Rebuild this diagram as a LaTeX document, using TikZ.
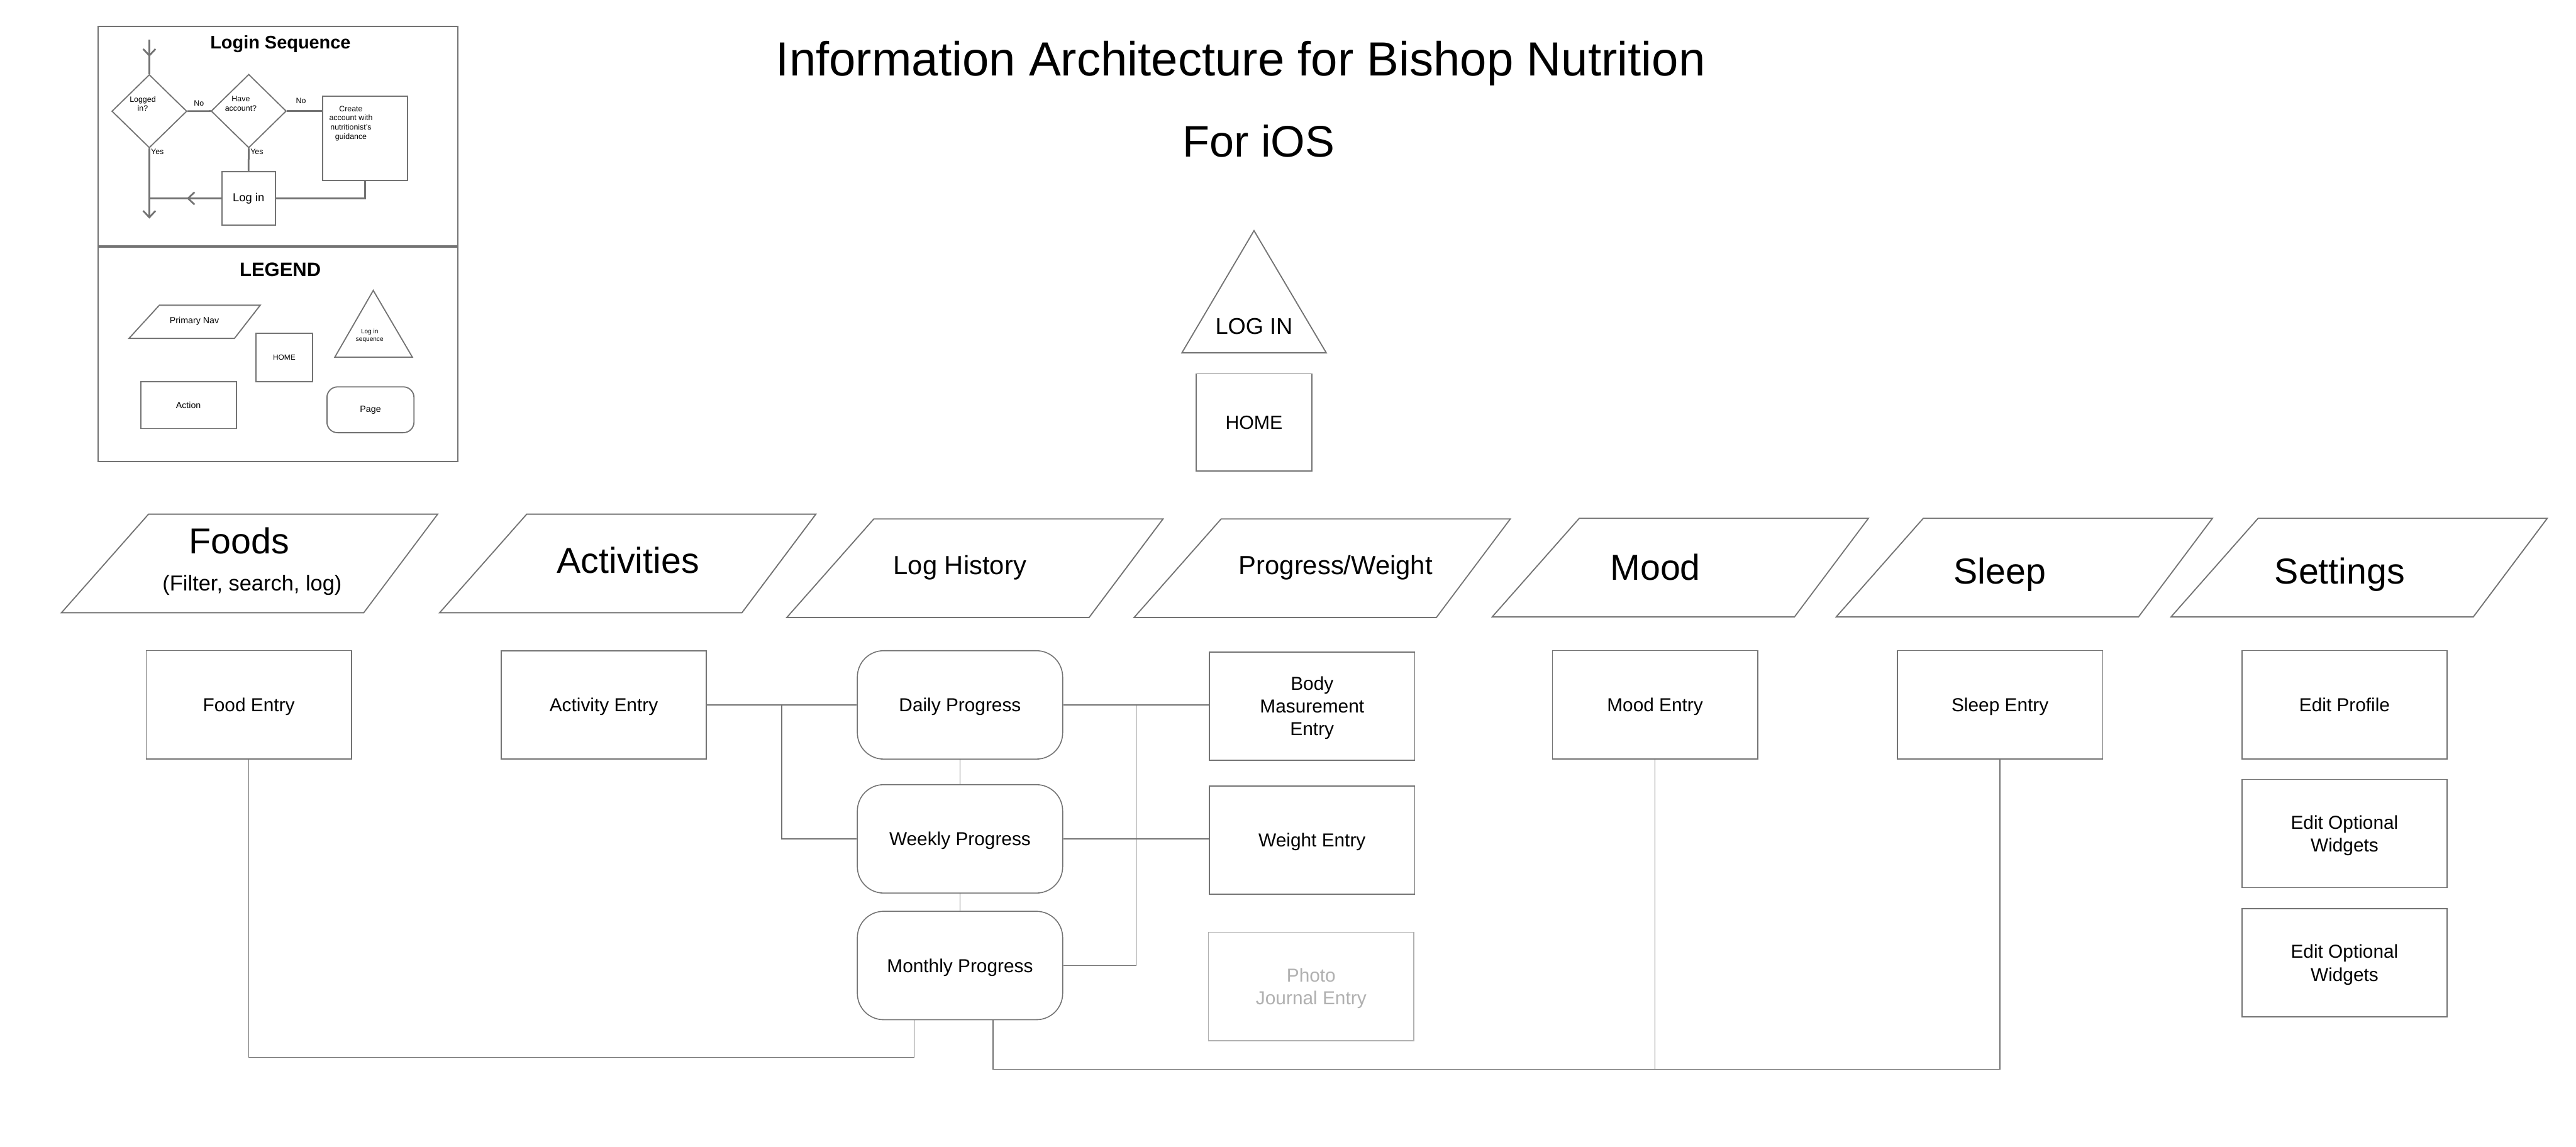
\documentclass[tikz,border=0pt]{standalone}
\usepackage{fontspec}
\setmainfont{Liberation Sans}
\usepackage{xcolor}
\usepackage{tikz}
\usetikzlibrary{arrows.meta,positioning,shapes.geometric,calc}

\definecolor{linegray}{RGB}{115,115,115}
\definecolor{fadegray}{RGB}{176,176,176}
\newcommand{\setfs}[2]{\fontsize{#1pt}{#2pt}\selectfont}

\begin{document}
\begin{tikzpicture}[
    x=0.02cm, y=-0.02cm,
    entry/.style={draw=linegray, line width=0.35pt, minimum width=2.5cm, minimum height=1.32cm, inner sep=1pt, text depth=0pt, align=center, font=\setfs{6.5}{7.9}},
    pagebox/.style={entry, rounded corners=0.32cm},
    conn/.style={linegray, line width=0.35pt},
    navline/.style={linegray, line width=0.4pt},
    navtext/.style={anchor=base, inner sep=0pt, font=\setfs{12.5}{15}},
    seqline/.style={linegray, line width=0.6pt},
    seqarr/.style={seqline, -{Straight Barb[length=0.8mm,width=1.5mm]}},
    seqbox/.style={draw=linegray, line width=0.4pt, inner sep=0pt},
    seqtext/.style={inner sep=0pt, align=center, text=black, font=\setfs{2.7}{3.2}},
    navpara/.pic={\draw[navline] (0,60) -- (53,0) -- (229,0) -- (184,60) -- cycle;}
  ]
    \useasboundingbox (0,0) rectangle (1568,698);

    % login sequence + legend panel
    \draw[linegray, line width=0.45pt] (59.6,16.2) rectangle (278.6,281.1);
    \draw[linegray, line width=0.9pt] (59.6,150.2) -- (278.6,150.2);

    \node[anchor=base, inner sep=0pt, font=\bfseries\setfs{6.3}{7}] (seqtitle) at (170.7,29.5) {Login Sequence};
    \node[seqbox, diamond, minimum width=0.914cm, minimum height=0.892cm] (logged) at (90.9,67.7) {};
    \node[seqtext] (loggedtxt) at (86.9,63.2) {Logged\\in?};
    \node[seqbox, diamond, minimum width=0.916cm, minimum height=0.896cm] (haveacc) at (151.4,67.6) {};
    \node[seqtext] (haveacctxt) at (146.6,63.2) {Have\\account?};
    \node[seqbox, minimum width=1.036cm, minimum height=1.028cm] (create) at (222.2,84.3) {};
    \node[seqtext] (createtxt) at (213.6,75.1) {Create\\account with\\nutritionist's\\guidance};
    \node[seqbox, minimum width=0.652cm, minimum height=0.646cm, font=\setfs{4}{5}] (loginbtn) at (151.3,120.75) {Log in};

    \coordinate (seqin) at (90.9,24.1);
    \coordinate (seqout) at (90.9,133.1);
    \coordinate (seqjoin) at (logged.south |- loginbtn.west);
    \draw[seqline] (seqin) -- (logged.north);
    \draw[seqarr] (seqin) -- ($(seqin)!0.5!(logged.north)$);
    \draw[seqline] (logged.east) -- node[seqtext, above=0.05cm] {No} (haveacc.west);
    \draw[seqline] (haveacc.east) -- node[seqtext, pos=0.4, above=0.08cm] {No} (create.west |- haveacc.east);
    \draw[seqarr] (logged.south) -- node[seqtext, pos=0, anchor=north west, xshift=0.3pt] {Yes} (seqout);
    \draw[seqline] (haveacc.south) -- node[seqtext, pos=0, anchor=north west, xshift=0.3pt] {Yes} (loginbtn.north);
    \draw[seqline] (loginbtn.east) -| (create.south);
    \draw[seqline] (loginbtn.west) -- (seqjoin);
    \draw[seqarr] (loginbtn.west) -- ($(loginbtn.west)!0.48!(seqjoin)$);

    \node[anchor=base, inner sep=0pt, font=\bfseries\setfs{6.75}{8}] (legtitle) at (170.6,168.4) {LEGEND};
    \draw[seqbox] (78.5,206) -- (97,185.8) -- (158.4,185.8) -- (142.7,206) -- cycle;
    \node[inner sep=0pt, font=\setfs{3.1}{3.6}] (legnav) at (118.3,195.6) {Primary Nav};
    \node[seqbox, minimum width=0.688cm, minimum height=0.592cm, font=\setfs{2.6}{3}] (leghome) at (173,217.6) {HOME};
    \draw[seqbox] (227.2,176.8) -- (251,217.4) -- (203.8,217.4) -- cycle;
    \node[seqtext, font=\setfs{2.2}{2.7}] (legseq) at (225,204.4) {Log in\\sequence};
    \node[seqbox, minimum width=1.164cm, minimum height=0.574cm, font=\setfs{3.1}{3.6}] (legaction) at (114.7,246.55) {Action};
    \node[seqbox, rounded corners=0.13cm, minimum width=1.06cm, minimum height=0.558cm, font=\setfs{3.1}{3.6}] (legpage) at (225.5,249.45) {Page};

    % title
    \node[anchor=base, inner sep=0pt, font=\setfs{16.6}{19}] (title) at (755.2,46.1) {Information Architecture for Bishop Nutrition};
    \node[anchor=base, inner sep=0pt, font=\setfs{15.3}{18}] (platform) at (766.2,95.5) {For iOS};

    % log in and home
    \draw[navline] (763.3,140.4) -- (807.3,214.8) -- (719.4,214.8) -- cycle;
    \node[anchor=base, inner sep=0pt, font=\setfs{7.9}{9}] (login) at (763.3,203.5) {LOG IN};
    \node[entry, minimum width=1.412cm, minimum height=1.184cm, font=\setfs{6.6}{8}] (home) at (763.3,257.2) {HOME};

    % primary nav
    \pic at (37.4,313) {navpara};
    \pic at (267.6,313) {navpara};
    \pic at (478.9,315.9) {navpara};
    \pic at (690.3,315.9) {navpara};
    \pic at (908.3,315.5) {navpara};
    \pic at (1117.7,315.5) {navpara};
    \pic at (1321.5,315.5) {navpara};
    \node[navtext] (foods) at (145.7,336.9) {Foods};
    \node[anchor=base, inner sep=0pt, font=\setfs{7.5}{9}] (foodsnote) at (153.5,359.5) {(Filter, search, log)};
    \node[navtext] (activities) at (382.3,349) {Activities};
    \node[navtext, font=\setfs{9.1}{11}] (loghist) at (584.3,349.5) {Log History};
    \node[navtext, font=\setfs{9.1}{11}] (progress) at (813,349.5) {Progress/Weight};
    \node[navtext] (mood) at (1007.6,353.1) {Mood};
    \node[navtext] (sleep) at (1217.2,355.3) {Sleep};
    \node[navtext] (settings) at (1424.2,355.3) {Settings};

    % pages and actions
    \node[entry] (food) at (151.45,429) {Food Entry};
    \node[entry] (activity) at (367.5,429.1) {Activity Entry};
    \node[pagebox] (daily) at (584.35,429.1) {Daily Progress};
    \node[pagebox] (weekly) at (584.35,510.65) {Weekly Progress};
    \node[pagebox] (monthly) at (584.35,587.75) {Monthly Progress};
    \node[entry] (body) at (798.65,429.85) {Body\\Masurement\\Entry};
    \node[entry] (weight) at (798.65,511.45) {Weight Entry};
    \node[entry, draw=fadegray, text=fadegray] (photo) at (798.1,600.45) {Photo\\Journal Entry};
    \node[entry] (moodentry) at (1007.4,429) {Mood Entry};
    \node[entry] (sleepentry) at (1217.4,429) {Sleep Entry};
    \node[entry] (profile) at (1427.1,429) {Edit Profile};
    \node[entry, below=0.236cm of profile] (widgets) {Edit Optional\\Widgets};
    \node[entry, below=0.242cm of widgets] (widgetsb) {Edit Optional\\Widgets};

    % connectors
    \coordinate (actsplit) at ($(activity.east)!0.5!(daily.west)$);
    \coordinate (progsplit) at ($(daily.east)!0.5!(body.west |- daily.east)$);
    \coordinate (foodjoin) at ([xshift=-0.56cm]monthly.south);
    \coordinate (sleepjoin) at ([xshift=0.4cm]monthly.south);
    \coordinate (foodbus) at (0,643.7);
    \coordinate (sleepbus) at (0,650.9);
    \draw[conn] (activity.east) -- (daily.west);
    \draw[conn] (actsplit) |- (weekly.west);
    \draw[conn] (daily) -- (weekly);
    \draw[conn] (weekly) -- (monthly);
    \draw[conn] (daily.east) -- (body.west |- daily.east);
    \draw[conn] (progsplit) |- (monthly.east);
    \draw[conn] (weekly.east) -- (weight.west |- weekly.east);
    \draw[conn] (food.south) |- (foodjoin |- foodbus) -- (foodjoin);
    \draw[conn] (sleepjoin) |- (sleepentry.south |- sleepbus) -- (sleepentry.south);
    \draw[conn] (moodentry.south) -- (moodentry.south |- sleepbus);
\end{tikzpicture}
\end{document}
